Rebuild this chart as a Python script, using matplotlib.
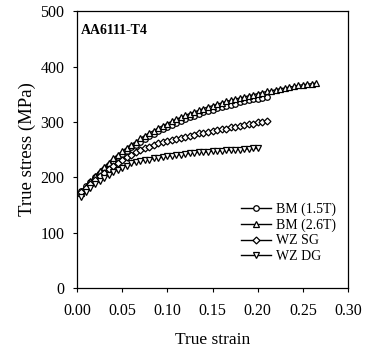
import matplotlib
matplotlib.use('Agg')
import matplotlib.pyplot as plt

plt.rcParams['font.family'] = ['Liberation Serif', 'DejaVu Serif']

# strain values (every 0.005)
strain_bm26 = [0.005, 0.010, 0.015, 0.020, 0.025, 0.030, 0.035, 0.040, 0.045, 0.050,
               0.055, 0.060, 0.065, 0.070, 0.075, 0.080, 0.085, 0.090, 0.095, 0.100,
               0.105, 0.110, 0.115, 0.120, 0.125, 0.130, 0.135, 0.140, 0.145, 0.150,
               0.155, 0.160, 0.165, 0.170, 0.175, 0.180, 0.185, 0.190, 0.195, 0.200,
               0.205, 0.210, 0.215, 0.220, 0.225, 0.230, 0.235, 0.240, 0.245, 0.250,
               0.255, 0.260, 0.265]
stress_bm26 = [172, 183, 193, 203, 211, 219, 226, 234, 240, 247,
               253, 259, 264, 270, 275, 280, 284, 289, 293, 297,
               301, 305, 308, 312, 315, 318, 321, 324, 327, 329,
               332, 334, 337, 339, 341, 343, 345, 347, 349, 351,
               353, 355, 356, 358, 360, 361, 363, 364, 366, 367,
               368, 369, 370]

strain_bm15 = strain_bm26[:42]
stress_bm15 = [176, 184, 192, 200, 208, 215, 222, 229, 236, 242,
               248, 254, 259, 264, 269, 274, 278, 283, 287, 291,
               295, 298, 302, 305, 308, 311, 314, 317, 320, 322,
               325, 327, 329, 331, 333, 335, 337, 339, 341, 342,
               344, 345]

strain_sg = strain_bm26[:42]
stress_sg = [174, 181, 188, 195, 202, 208, 214, 220, 226, 231,
             236, 241, 245, 249, 252, 255, 258, 261, 263, 265,
             267, 269, 271, 273, 275, 277, 279, 280, 282, 284,
             285, 287, 288, 290, 291, 293, 294, 296, 297, 299,
             300, 302]

strain_dg = strain_bm26[:40]
stress_dg = [165, 173, 180, 187, 193, 199, 204, 209, 213, 217,
             221, 225, 227, 229, 231, 232, 234, 235, 236, 238,
             239, 240, 241, 242, 243, 244, 245, 245, 246, 247,
             247, 248, 249, 249, 250, 250, 251, 251, 252, 252]

fig = plt.figure(figsize=(3.68, 3.49), dpi=100)
ax = fig.add_axes([0.209, 0.175, 0.737, 0.793])

mk = dict(markerfacecolor='white', markeredgecolor='black', markersize=4,
          markeredgewidth=0.9, color='black', linewidth=1.0)
ax.plot(strain_bm15, stress_bm15, marker='o', label='BM (1.5T)', **mk)
ax.plot(strain_bm26, stress_bm26, marker='^', label='BM (2.6T)', **mk)
ax.plot(strain_sg, stress_sg, marker='D', label='WZ SG',
        **{**mk, 'markersize': 3.5})
ax.plot(strain_dg, stress_dg, marker='v', label='WZ DG', **mk)

ax.set_xlim(0, 0.30)
ax.set_ylim(0, 500)
ax.set_xticks([0.00, 0.05, 0.10, 0.15, 0.20, 0.25, 0.30])
ax.set_xticklabels(['0.00', '0.05', '0.10', '0.15', '0.20', '0.25', '0.30'])
ax.set_yticks([0, 100, 200, 300, 400, 500])
ax.tick_params(labelsize=11.5, length=3, width=0.8, direction='out')
ax.tick_params(axis='x', pad=8)
ax.tick_params(axis='y', pad=6)
for s in ax.spines.values():
    s.set_linewidth(0.9)

ax.set_xlabel('True strain', fontsize=12.5, labelpad=9)
ax.set_ylabel('True stress (MPa)', fontsize=13.5, labelpad=3)

ax.text(0.015, 0.955, 'AA6111-T4', transform=ax.transAxes, fontsize=10,
        fontweight='bold', va='top', ha='left')

ax.legend(loc='lower right', bbox_to_anchor=(1.0, 0.045), frameon=False,
          fontsize=10, handlelength=2.2, handletextpad=0.3, labelspacing=0.18)

fig.savefig('out.png', dpi=100)
